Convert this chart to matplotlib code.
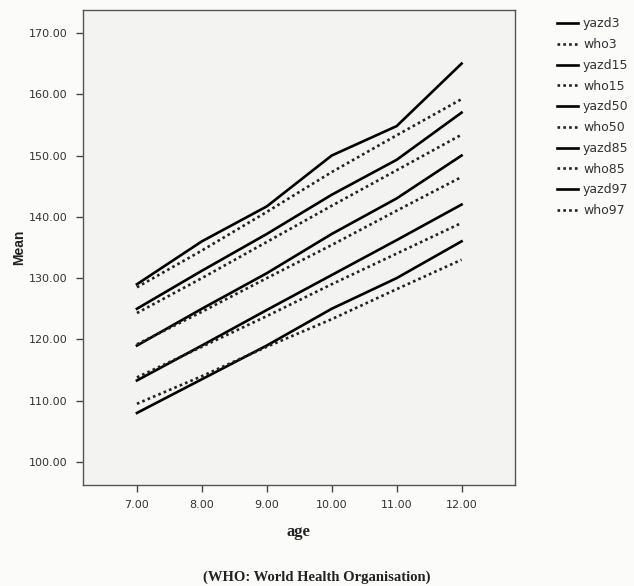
import matplotlib
matplotlib.use("Agg")
import matplotlib.pyplot as plt

ages = [7, 8, 9, 10, 11, 12]
yazd3 = [108, 113.5, 119, 125, 130, 136]
who3 = [109.5, 114, 118.8, 123.3, 128.2, 133]
yazd15 = [113.3, 119, 124.8, 130.5, 136.2, 142]
who15 = [113.8, 118.8, 123.8, 129, 134, 139]
yazd50 = [119, 125, 130.8, 137.2, 143, 150]
who50 = [119.2, 124.5, 130, 135.4, 141, 146.5]
yazd85 = [125, 131.2, 137.2, 143.6, 149.3, 157]
who85 = [124.3, 130, 135.9, 141.8, 147.6, 153.4]
yazd97 = [129, 136, 141.7, 150, 154.8, 165]
who97 = [128.5, 134.5, 140.8, 147.3, 153.3, 159.2]

series = [("yazd3", yazd3), ("who3", who3), ("yazd15", yazd15), ("who15", who15),
          ("yazd50", yazd50), ("who50", who50), ("yazd85", yazd85), ("who85", who85),
          ("yazd97", yazd97), ("who97", who97)]

yticks = [100, 110, 120, 130, 140, 150, 160, 170]
xticks = [7, 8, 9, 10, 11, 12]

fig = plt.figure(figsize=(6.34, 5.86), dpi=100)
fig.patch.set_facecolor("#fbfbfa")
ax = fig.add_axes([0.131, 0.1724, 0.681, 0.8106])
ax.set_facecolor("#f3f3f1")

for name, vals in series:
    if name.startswith("yazd"):
        ax.plot(ages, vals, color="black", lw=1.9, ls="-", label=name)
    else:
        ax.plot(ages, vals, color="#222222", lw=1.9, ls=(0, (1, 1.2)), label=name)

ax.set_xlim(6.17, 12.82)
ax.set_ylim(96.25, 173.75)
ax.set_xticks(xticks)
ax.set_xticklabels([f"{v:.2f}" for v in xticks])
ax.set_yticks(yticks)
ax.set_yticklabels([f"{v:.2f}" for v in yticks])
ax.tick_params(direction="out", length=5, width=1, colors="#444444", labelsize=8,
               labelcolor="#333333", pad=6)
for s in ax.spines.values():
    s.set_color("#555555")
    s.set_linewidth(1)

ax.set_ylabel("Mean", fontsize=10, fontweight="bold", family="Liberation Sans",
              color="#222222", labelpad=2)
ax.set_xlabel("age", fontsize=12, fontweight="bold", family="Liberation Serif",
              color="#222222", labelpad=10)

leg = ax.legend(loc="upper left", bbox_to_anchor=(1.08, 1.0), frameon=False,
                fontsize=9, handlelength=1.7, handletextpad=0.4, labelspacing=0.62,
                borderaxespad=0.2)
for t in leg.get_texts():
    t.set_color("#333333")

fig.text(0.5, 0.004, "(WHO: World Health Organisation)", ha="center", va="bottom",
         fontsize=10.5, fontweight="bold", family="Liberation Serif", color="#222222")

fig.savefig("out.png", dpi=100, facecolor=fig.get_facecolor())
